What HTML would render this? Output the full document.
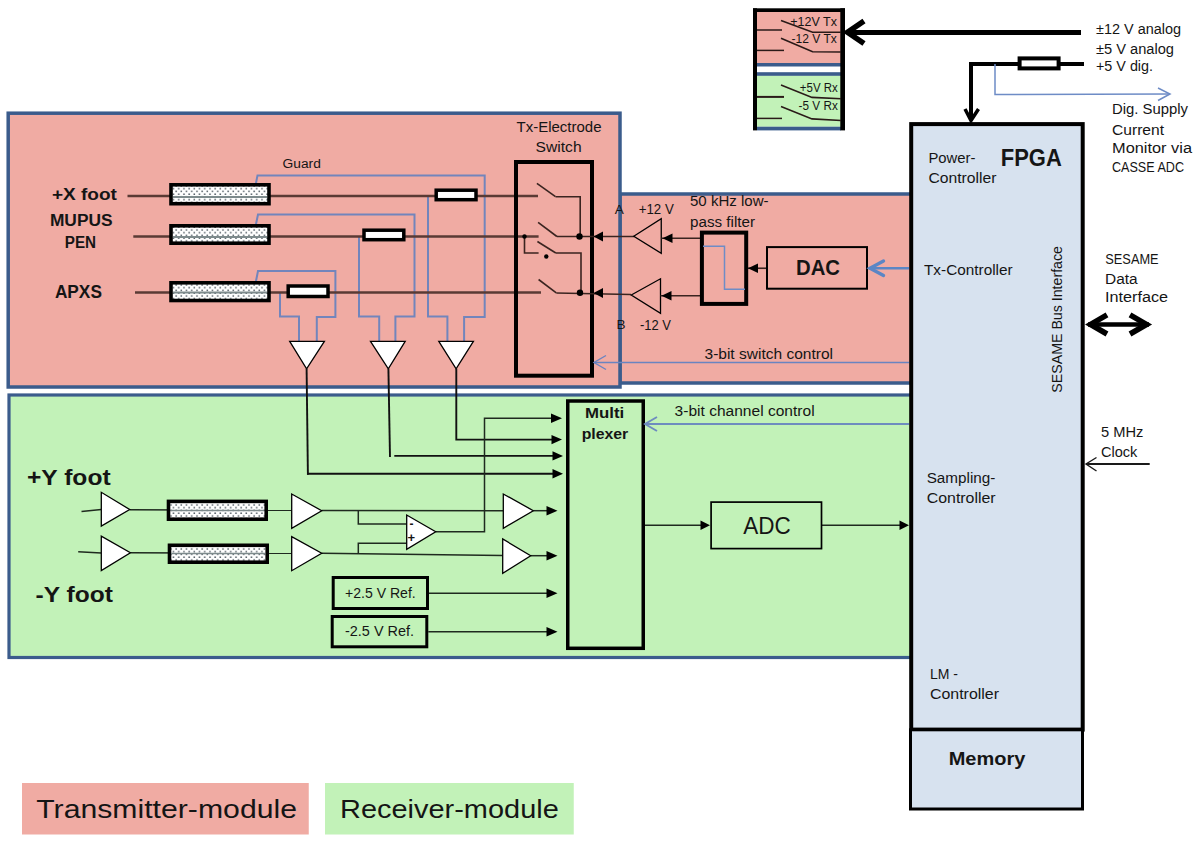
<!DOCTYPE html>
<html><head><meta charset="utf-8">
<style>
html,body{margin:0;padding:0;background:#fff;width:1200px;height:848px;overflow:hidden}
svg{display:block}
text{font-family:"Liberation Sans",sans-serif;fill:#151515}
.b{font-weight:bold}
</style></head><body>
<svg width="1200" height="848" viewBox="0 0 1200 848">
<defs>
<pattern id="dots" x="172.5" y="187.6" width="5.2" height="5.5" patternUnits="userSpaceOnUse">
<rect width="5.2" height="5.5" fill="#fff"/>
<rect x="0.3" y="0.4" width="1.5" height="1.4" fill="#48525c"/>
<rect x="2.9" y="3.15" width="1.5" height="1.4" fill="#48525c"/>
</pattern>
<marker id="ah" viewBox="0 0 10 10" refX="10" refY="5" markerWidth="10" markerHeight="10" markerUnits="userSpaceOnUse" orient="auto">
<path d="M0,0.5 L10,5 L0,9.5 z" fill="#000"/>
</marker>
</defs>

<!-- ===== RED TRANSMITTER BOX ===== -->
<rect x="620" y="194" width="292" height="189" fill="#F0ABA3" stroke="#3B5C8C" stroke-width="3.5"/>
<rect x="8.2" y="113.2" width="611.8" height="273.8" fill="#F0ABA3" stroke="#3B5C8C" stroke-width="3.5"/>


<!-- ===== GREEN RECEIVER BOX ===== -->
<rect x="9" y="395" width="903" height="262.5" fill="#C2F2B8" stroke="#3B5C8C" stroke-width="3.2"/>

<!-- red internals -->
<g fill="none" stroke-linecap="butt">
<!-- guard / signal blue wires -->
<g stroke="#7285BC" stroke-width="2" stroke-linejoin="miter">
<polyline points="255.8,184 257.5,175.4 484.7,175.4 484.7,317 464.1,317 464.1,342"/>
<polyline points="255.8,225 258,214.6 414.5,214.6 414.5,316.5 395.4,316.5 395.4,342"/>
<polyline points="255.8,282 258,271 335.4,271 335.4,317 316.8,317 316.8,342"/>
<polyline points="428,195 428,316.5 447.4,316.5 447.4,342"/>
<polyline points="359,236.5 359,316.5 379.2,316.5 379.2,342"/>
<polyline points="280,293 280,316.5 299,316.5 299,342"/>
</g>
<!-- signal lines -->
<g stroke="#5a3a34" stroke-width="2.3">
<line x1="127.5" y1="196" x2="538" y2="196"/>
<line x1="133.3" y1="236.5" x2="538.6" y2="236.5"/>
<line x1="135" y1="292.5" x2="541" y2="292.5"/>
</g>
</g>
<!-- electrodes -->
<g stroke="#000" stroke-width="3.6" fill="url(#dots)">
<rect x="171" y="184.8" width="98" height="18.9"/>
<rect x="171" y="225.8" width="98" height="17.4"/>
<rect x="171" y="282.8" width="98" height="17.7"/>
</g>
<g stroke="#7d8a8c" stroke-width="2">
<line x1="173" y1="197" x2="267" y2="197"/>
<line x1="173" y1="237" x2="267" y2="237"/>
<line x1="173" y1="292.5" x2="267" y2="292.5"/>
</g>
<!-- resistors -->
<g stroke="#000" stroke-width="3.5" fill="#fff">
<rect x="436.2" y="190.2" width="39.8" height="9.5"/>
<rect x="364" y="230.2" width="39.8" height="9.5"/>
<rect x="288.2" y="286" width="39.8" height="10.5"/>
</g>
<!-- buffers down -->
<g stroke="#000" stroke-width="1.3" fill="#fff">
<polygon points="289.7,341.3 324.4,341.3 306.6,368.8"/>
<polygon points="370.5,341.3 405.2,341.3 388.3,368.8"/>
<polygon points="438.8,341.3 473.4,341.3 456.1,368.8"/>
</g>
<!-- outputs to mux -->
<g stroke="#111" stroke-width="1.9" fill="none">
<line x1="306.6" y1="368.8" x2="307.9" y2="474.7"/><polyline points="307,473.8 554,473.8"/>
<line x1="388.4" y1="368.8" x2="390" y2="456.9"/><polyline points="394.3,455.9 554,455.9"/>
<polyline points="456.3,368.8 456.3,439.6 553,439.6"/>
</g>
<!-- switch box -->
<rect x="516" y="162" width="76" height="213.7" fill="none" stroke="#000" stroke-width="4"/>
<g stroke="#3a2420" stroke-width="1.6" fill="none">
<line x1="536.9" y1="183.4" x2="555.5" y2="196.7"/>
<polyline points="555.5,196.7 580.2,196.7 580.2,236"/>
<line x1="538.1" y1="222.3" x2="556.9" y2="236.5"/>
<line x1="556.9" y1="236.5" x2="634" y2="236.5"/>
<polyline points="524.5,236.5 524.5,253 538.6,253"/>
<line x1="537.4" y1="241.5" x2="555.8" y2="253"/>
<polyline points="555.8,253 581,253 581,292.8"/>
<line x1="538.6" y1="279.5" x2="556.3" y2="292.8"/>
<line x1="556.3" y1="293" x2="631" y2="294.5"/>
</g>
<g fill="#000">
<circle cx="524.5" cy="236.5" r="2.2"/>
<circle cx="546.3" cy="256.5" r="2.2"/>
<circle cx="579.5" cy="236.5" r="3.2"/>
<circle cx="580" cy="292.8" r="3.2"/>
<polygon points="593.5,236.5 603,231.5 603,241.5"/>
<polygon points="593.5,293 603,288 603,298"/>
</g>
<!-- amps left -->
<g stroke="#000" stroke-width="1.3" fill="none">
<polygon points="633.75,236.25 661.25,218.75 661.25,253.25"/>
<polygon points="631.25,295 660.5,278.75 660.5,313.25"/>
</g>
<g stroke="#3a2420" stroke-width="1.6">
<line x1="661.25" y1="238.25" x2="700.5" y2="238.25"/>
<line x1="660.5" y1="295.75" x2="700.5" y2="295.75"/>
<line x1="747.5" y1="268.25" x2="766.25" y2="268.25"/>
</g>
<g fill="#000">
<polygon points="662.5,238.25 672.5,233.5 672.5,243"/>
<polygon points="661.5,295.75 671.5,291 671.5,300.5"/>
<polygon points="748,268.25 758,263.5 758,273"/>
</g>
<!-- filter -->
<rect x="701.9" y="232.6" width="44.3" height="71.3" fill="none" stroke="#000" stroke-width="4"/>
<polyline points="703,246.25 724.5,246.25 724.5,289.25 745,289.25" fill="none" stroke="#6E8CC6" stroke-width="1.5"/>
<!-- DAC -->
<rect x="767" y="247.1" width="100" height="41.6" fill="none" stroke="#000" stroke-width="2"/>
<!-- FPGA->DAC blue -->
<g stroke="#5B86C5" fill="none" stroke-width="2.6">
<line x1="869.5" y1="268.25" x2="909" y2="268.25"/>
<polyline points="883.5,261 870,268.25 883.5,275.5" stroke-width="3.4" stroke-linecap="round"/>
</g>
<!-- switch control -->
<g stroke="#6A84C0" fill="none" stroke-width="1.4">
<line x1="594" y1="362.5" x2="909" y2="362.5"/>
<polyline points="606,355.5 594,362.5 606,369.5"/>
</g>
<!-- red texts -->
<text class="b" x="51.9" y="199.7" font-size="17" textLength="65" lengthAdjust="spacingAndGlyphs">+X foot</text>
<text class="b" x="49.9" y="225.8" font-size="16" textLength="62.7" lengthAdjust="spacingAndGlyphs">MUPUS</text>
<text class="b" x="64.8" y="247.6" font-size="16" textLength="31.3" lengthAdjust="spacingAndGlyphs">PEN</text>
<text class="b" x="54.9" y="297.5" font-size="17.5" textLength="47" lengthAdjust="spacingAndGlyphs">APXS</text>
<text x="282.5" y="168" font-size="12" textLength="38.3" lengthAdjust="spacingAndGlyphs">Guard</text>
<text x="516.5" y="132" font-size="14" textLength="85" lengthAdjust="spacingAndGlyphs">Tx-Electrode</text>
<text x="535.6" y="152" font-size="14" textLength="46" lengthAdjust="spacingAndGlyphs">Switch</text>
<text x="614.8" y="213.5" font-size="13" textLength="9" lengthAdjust="spacingAndGlyphs">A</text>
<text x="616.5" y="329" font-size="13" textLength="9" lengthAdjust="spacingAndGlyphs">B</text>
<text x="638.75" y="213.5" font-size="14" textLength="35" lengthAdjust="spacingAndGlyphs">+12 V</text>
<text x="640" y="330" font-size="14" textLength="31" lengthAdjust="spacingAndGlyphs">-12 V</text>
<text x="690" y="206" font-size="14" textLength="78.6" lengthAdjust="spacingAndGlyphs">50 kHz low-</text>
<text x="690" y="226.5" font-size="14" textLength="65" lengthAdjust="spacingAndGlyphs">pass filter</text>
<text class="b" x="796" y="275" font-size="22" textLength="44" lengthAdjust="spacingAndGlyphs">DAC</text>
<text x="704.5" y="358.8" font-size="14" textLength="128.5" lengthAdjust="spacingAndGlyphs">3-bit switch control</text>


<!-- green internals -->
<g stroke="#1f2a1f" stroke-width="1.5" fill="none">
<line x1="81.5" y1="511.5" x2="101.3" y2="509.5"/>
<line x1="78.2" y1="551.7" x2="101.3" y2="553"/>
<line x1="129.7" y1="509.8" x2="291.7" y2="510.3"/>
<line x1="130.4" y1="552.7" x2="291.7" y2="553.3"/>
<line x1="321.7" y1="510.5" x2="503.3" y2="510.7"/>
<line x1="321.7" y1="553.3" x2="502.7" y2="555.5"/>
<polyline points="358.3,510.5 358.3,524 406.7,524"/>
<polyline points="358.3,554 358.3,543.3 406.7,543.3"/>
<polyline points="435.7,531.7 484.5,531.7 484.5,418.3 551,418.3"/>
<line x1="533.3" y1="510.7" x2="550" y2="510.7"/>
<line x1="530.7" y1="555.7" x2="550" y2="555.7"/>
<line x1="429" y1="593.3" x2="550" y2="593.3"/>
<line x1="428.3" y1="631.7" x2="550" y2="631.7"/>
<line x1="645" y1="525.3" x2="702" y2="525.3"/>
<line x1="821.7" y1="525.3" x2="901" y2="525.3"/>
</g>
<g fill="#000">
<polygon points="562,418.3 551,413.5 551,423"/>
<polygon points="562,439.6 551.5,434.9 551.5,444.3"/>
<polygon points="563,455.9 552.5,451.2 552.5,460.6"/>
<polygon points="563,473.8 552.5,469.1 552.5,478.5"/>
<polygon points="557.5,510.7 546.5,506 546.5,515.5"/>
<polygon points="557.5,555.7 546.5,551 546.5,560.5"/>
<polygon points="557.5,593.3 546.5,588.5 546.5,598"/>
<polygon points="557.5,631.7 546.5,627 546.5,636.5"/>
<polygon points="710,525.3 700.5,520.5 700.5,530"/>
<polygon points="909,525.3 899.5,520.5 899.5,530"/>
</g>
<g stroke="#000" stroke-width="1.3" fill="#fff">
<polygon points="101.3,492.3 101.3,526 129.7,509.5"/>
<polygon points="101.3,536.2 101.3,570.5 130.4,552.7"/>
<polygon points="291.7,494 291.7,528.3 321.7,510.7"/>
<polygon points="291.7,536.7 291.7,570.7 321.7,553.3"/>
<polygon points="503.3,494 503.3,528.3 533.3,510.7"/>
<polygon points="502.7,539 502.7,573.3 530.7,555.7"/>
<polygon points="406.7,515 406.7,549.3 435.7,531.7"/>
</g>
<g stroke="#000" stroke-width="3.6" fill="url(#dots)">
<rect x="168.5" y="501.4" width="97.7" height="17.8"/>
<rect x="169.5" y="545.3" width="97.7" height="16.9"/>
</g>
<g stroke="#7d8a8c" stroke-width="1.5">
<line x1="171" y1="510.5" x2="264" y2="510.5"/>
<line x1="171" y1="553.5" x2="265" y2="553.5"/>
</g>
<g stroke="#000" stroke-width="3" fill="none">
<rect x="333.2" y="577.5" width="94.3" height="31"/>
<rect x="332.2" y="616.5" width="94.6" height="30.3"/>
</g>
<rect x="567.75" y="401" width="75.5" height="247.3" fill="none" stroke="#000" stroke-width="3.5"/>
<rect x="711.1" y="502.1" width="110.4" height="46.5" fill="none" stroke="#000" stroke-width="1.7"/>
<g stroke="#6E8CBF" fill="none" stroke-width="1.9">
<line x1="645" y1="424" x2="909" y2="424"/>
<polyline points="657,417 645,424 657,431"/>
</g>
<text x="409.5" y="528" font-size="12" class="b">-</text>
<text x="407.5" y="541.5" font-size="13" class="b">+</text>
<text class="b" x="27" y="485" font-size="22" textLength="83.6" lengthAdjust="spacingAndGlyphs">+Y foot</text>
<text class="b" x="35.6" y="602" font-size="22" textLength="77.3" lengthAdjust="spacingAndGlyphs">-Y foot</text>
<text x="345" y="598" font-size="14" textLength="70.7" lengthAdjust="spacingAndGlyphs">+2.5 V Ref.</text>
<text x="345" y="636" font-size="14" textLength="69" lengthAdjust="spacingAndGlyphs">-2.5 V Ref.</text>
<text class="b" x="585" y="418" font-size="15" textLength="39.3" lengthAdjust="spacingAndGlyphs">Multi</text>
<text class="b" x="581.7" y="438.6" font-size="15" textLength="46.6" lengthAdjust="spacingAndGlyphs">plexer</text>
<text x="743.2" y="534.2" font-size="23" textLength="47.5" lengthAdjust="spacingAndGlyphs">ADC</text>
<text x="674.6" y="415.5" font-size="14" textLength="140" lengthAdjust="spacingAndGlyphs">3-bit channel control</text>

<!-- ===== FPGA ===== -->
<rect x="911.2" y="124.1" width="171.5" height="605.5" fill="#D7E2EF" stroke="#000" stroke-width="4"/>
<rect x="910.5" y="729.8" width="172" height="79.2" fill="#D7E2EF" stroke="#000" stroke-width="3"/>

<text class="b" x="1000.8" y="165.7" font-size="24" textLength="61" lengthAdjust="spacingAndGlyphs">FPGA</text>
<text x="928.4" y="162.5" font-size="14" textLength="47" lengthAdjust="spacingAndGlyphs">Power-</text>
<text x="928.4" y="182.8" font-size="14" textLength="68" lengthAdjust="spacingAndGlyphs">Controller</text>
<text x="924" y="275" font-size="14" textLength="88.6" lengthAdjust="spacingAndGlyphs">Tx-Controller</text>
<text x="926.7" y="483" font-size="14" textLength="68.7" lengthAdjust="spacingAndGlyphs">Sampling-</text>
<text x="926.7" y="503" font-size="14" textLength="69" lengthAdjust="spacingAndGlyphs">Controller</text>
<text x="930" y="679" font-size="14" textLength="28" lengthAdjust="spacingAndGlyphs">LM -</text>
<text x="930" y="699" font-size="14" textLength="69" lengthAdjust="spacingAndGlyphs">Controller</text>
<text class="b" x="948.7" y="765" font-size="19" textLength="76.7" lengthAdjust="spacingAndGlyphs">Memory</text>
<text transform="translate(1062.3,392.7) rotate(-90)" x="0" y="0" font-size="14" textLength="146.7" lengthAdjust="spacingAndGlyphs">SESAME Bus Interface</text>

<!-- top supply -->
<rect x="757" y="12" width="84" height="51" fill="#F0ABA3"/>
<rect x="757" y="63" width="84" height="3.5" fill="#3B5C8C"/>
<rect x="757" y="72.2" width="84" height="3.7" fill="#3B5C8C"/>
<rect x="757" y="75.9" width="84" height="50.8" fill="#C2F2B8"/>
<rect x="757" y="126.7" width="84" height="3.7" fill="#3B5C8C"/>
<rect x="753" y="8.3" width="4" height="122.1" fill="#000"/>
<rect x="840.3" y="8.3" width="4.7" height="122.1" fill="#000"/>
<rect x="753" y="8.3" width="92" height="3.7" fill="#000"/>
<g stroke="#2a1a18" fill="none">
<line x1="757" y1="30" x2="782" y2="30" stroke-width="1.5"/>
<polyline points="781,20.6 812.6,32.3 841,32.3" stroke-width="1.6"/>
<line x1="757" y1="50.4" x2="784" y2="50.4" stroke-width="1.5"/>
<polyline points="781,38.3 812.6,51.7 841,52" stroke-width="1.6"/>
<line x1="757" y1="96.9" x2="784" y2="96.9" stroke-width="2"/>
<polyline points="781,85 812,97.4 841,98.7" stroke-width="1.6"/>
<line x1="757" y1="118.4" x2="782" y2="118.4" stroke-width="1.5"/>
<polyline points="781,106.5 812,118.9 841,120.5" stroke-width="1.6"/>
</g>
<text x="790.3" y="25.6" font-size="12.5" textLength="46.6" lengthAdjust="spacingAndGlyphs">+12V Tx</text>
<text x="791.5" y="42.7" font-size="12.5" textLength="45.4" lengthAdjust="spacingAndGlyphs">-12 V Tx</text>
<text x="799.8" y="91.6" font-size="12.5" textLength="38" lengthAdjust="spacingAndGlyphs">+5V Rx</text>
<text x="798.6" y="109.6" font-size="12.5" textLength="39.2" lengthAdjust="spacingAndGlyphs">-5 V Rx</text>
<g stroke="#000" fill="none" stroke-width="5">
<line x1="850" y1="32.5" x2="1081" y2="32.5"/>
<polyline points="864,21 847.5,32.3 864,43.5" stroke-width="5.5" stroke-linejoin="miter" stroke-miterlimit="10"/>
<line x1="969" y1="64" x2="1084" y2="64" stroke-width="4"/>
<line x1="971" y1="62" x2="971" y2="118" stroke-width="4"/>
<polyline points="965,109 971,120.5 978.5,109" stroke-width="3.5"/>
</g>
<rect x="1019.6" y="58.4" width="39" height="10" fill="#fff" stroke="#000" stroke-width="4"/>
<g stroke="#6E8CC6" fill="none" stroke-width="1.5">
<polyline points="995,64 995,94.5 1170,94"/>
<polyline points="1158,88 1170,94 1158,100.5"/>
</g>
<text x="1096" y="33.8" font-size="14" textLength="85" lengthAdjust="spacingAndGlyphs">±12 V analog</text>
<text x="1096" y="53.5" font-size="14" textLength="78" lengthAdjust="spacingAndGlyphs">±5 V analog</text>
<text x="1096" y="71.4" font-size="14" textLength="57" lengthAdjust="spacingAndGlyphs">+5 V dig.</text>
<text x="1112" y="114" font-size="14" textLength="76" lengthAdjust="spacingAndGlyphs">Dig. Supply</text>
<text x="1112" y="135" font-size="14" textLength="52" lengthAdjust="spacingAndGlyphs">Current</text>
<text x="1112" y="153" font-size="14" textLength="80" lengthAdjust="spacingAndGlyphs">Monitor via</text>
<text x="1112" y="172" font-size="14" textLength="72" lengthAdjust="spacingAndGlyphs">CASSE ADC</text>
<text x="1105.3" y="263.8" font-size="14" textLength="53.3" lengthAdjust="spacingAndGlyphs">SESAME</text>
<text x="1105" y="283.5" font-size="14" textLength="32.6" lengthAdjust="spacingAndGlyphs">Data</text>
<text x="1105" y="302" font-size="14" textLength="63" lengthAdjust="spacingAndGlyphs">Interface</text>
<g stroke="#000" fill="none" stroke-width="4.5">
<line x1="1088" y1="324.4" x2="1149" y2="324.4"/>
<polyline points="1107,314.8 1090.5,324.4 1107,334" stroke-width="5.5" stroke-miterlimit="10"/>
<polyline points="1130,314.8 1146.6,324.4 1130,334" stroke-width="5.5" stroke-miterlimit="10"/>
</g>
<text x="1101" y="437" font-size="14" textLength="42.4" lengthAdjust="spacingAndGlyphs">5 MHz</text>
<text x="1101" y="457" font-size="14" textLength="36.4" lengthAdjust="spacingAndGlyphs">Clock</text>
<g stroke="#1a1a1a" fill="none" stroke-width="1.8">
<line x1="1086" y1="464" x2="1149.7" y2="464"/>
<polyline points="1096.5,457.5 1086,464 1096.5,471" stroke-width="1.4"/>
</g>

<!-- ===== LEGEND ===== -->
<rect x="22" y="783" width="286.75" height="51.5" fill="#F0ABA3"/>
<rect x="325" y="783" width="248.75" height="51.5" fill="#C2F2B8"/>
<text x="36.25" y="817.5" font-size="25" textLength="260.75" lengthAdjust="spacingAndGlyphs">Transmitter-module</text>
<text x="340" y="818" font-size="25" textLength="218.75" lengthAdjust="spacingAndGlyphs">Receiver-module</text>

</svg>
</body></html>
